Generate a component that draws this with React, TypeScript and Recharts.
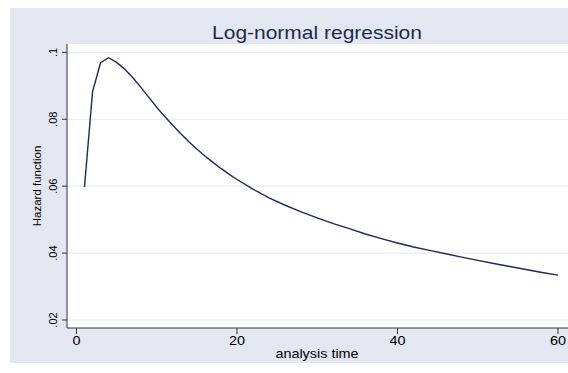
import React from 'react';
import { LineChart, Line, XAxis, YAxis, CartesianGrid, Customized } from 'recharts';

const times = [1, 2, 3, 4, 5, 6, 7, 8, 9, 10, 11, 12, 13, 14, 15, 16, 17, 18, 19, 20, 22, 24, 26, 28, 30, 32, 34, 36, 38, 40, 42, 44, 46, 48, 50, 52, 54, 56, 58, 60];
const hazard = [0.0597, 0.0882, 0.0969, 0.0984, 0.097, 0.095, 0.0925, 0.0896, 0.0866, 0.0836, 0.0808, 0.0782, 0.0757, 0.0733, 0.0711, 0.069, 0.0671, 0.0653, 0.0636, 0.062, 0.0591, 0.0565, 0.0543, 0.0523, 0.0505, 0.0488, 0.0473, 0.0457, 0.0443, 0.043, 0.0418, 0.0408, 0.0398, 0.0388, 0.0378, 0.0369, 0.036, 0.0351, 0.0342, 0.0334];
const xTicks = [0, 20, 40, 60];
const yTicks = [0.02, 0.04, 0.06, 0.08, 0.1];
const yTickLabels = ['.02', '.04', '.06', '.08', '.1'];

const data = times.map((t, i) => ({ t, h: hazard[i] }));

const FONT = '"Liberation Sans", Arial, Helvetica, sans-serif';
const SX = 1.2;

const XTick = (props: any) => {
  const { x, y, payload } = props;
  return (
    <text
      transform={`translate(${x},${y + 11}) scale(${SX},1)`}
      textAnchor="middle"
      fontFamily={FONT}
      fontSize={12}
      fill="#000"
    >
      {payload.value}
    </text>
  );
};

const YTick = (props: any) => {
  const { x, y, payload } = props;
  const idx = yTicks.findIndex((v) => Math.abs(v - payload.value) < 1e-9);
  const label = idx >= 0 ? yTickLabels[idx] : String(payload.value);
  return (
    <text
      x={x - 5}
      y={y}
      transform={`rotate(-90, ${x - 5}, ${y})`}
      textAnchor="middle"
      fontFamily={FONT}
      fontSize={11}
      fill="#000"
    >
      {label}
    </text>
  );
};

const Texts = () => (
  <g>
    <text
      transform={`translate(307,31) scale(${SX},1)`}
      textAnchor="middle"
      fontFamily={FONT}
      fontSize={17.5}
      fill="#1e2a4a"
    >
      Log-normal regression
    </text>
    <text
      transform={`translate(307,350) scale(${SX},1)`}
      textAnchor="middle"
      fontFamily={FONT}
      fontSize={12}
      fill="#000"
    >
      analysis time
    </text>
    <text
      x={31}
      y={178}
      transform="rotate(-90, 31, 178)"
      textAnchor="middle"
      fontFamily={FONT}
      fontSize={11.5}
      fill="#000"
    >
      Hazard function
    </text>
  </g>
);

export default function App() {
  return (
    <div style={{ position: 'absolute', left: 10, top: 8, width: 558, height: 355, background: '#e3e7f1' }}>
      <LineChart width={558} height={355} data={data} margin={{ top: 36, right: 0, bottom: 0, left: 0 }}>
        <CartesianGrid vertical={false} fill="#ffffff" stroke="#e4e8f0" horizontalValues={yTicks} />
        <XAxis
          dataKey="t"
          type="number"
          domain={[-1.18, 61.25]}
          ticks={xTicks}
          allowDataOverflow
          height={35}
          tickSize={6}
          tickMargin={0}
          tick={<XTick />}
          stroke="#333"
          tickLine={{ stroke: '#333' }}
        />
        <YAxis
          type="number"
          domain={[0.0176, 0.1025]}
          ticks={yTicks}
          allowDataOverflow
          width={57}
          tickSize={5}
          tickMargin={0}
          tick={<YTick />}
          stroke="#333"
          tickLine={{ stroke: '#333' }}
        />
        <Line
          dataKey="h"
          type="linear"
          stroke="#1a2b5e"
          strokeWidth={1.4}
          dot={false}
          isAnimationActive={false}
        />
        <Customized component={<Texts />} />
      </LineChart>
    </div>
  );
}
